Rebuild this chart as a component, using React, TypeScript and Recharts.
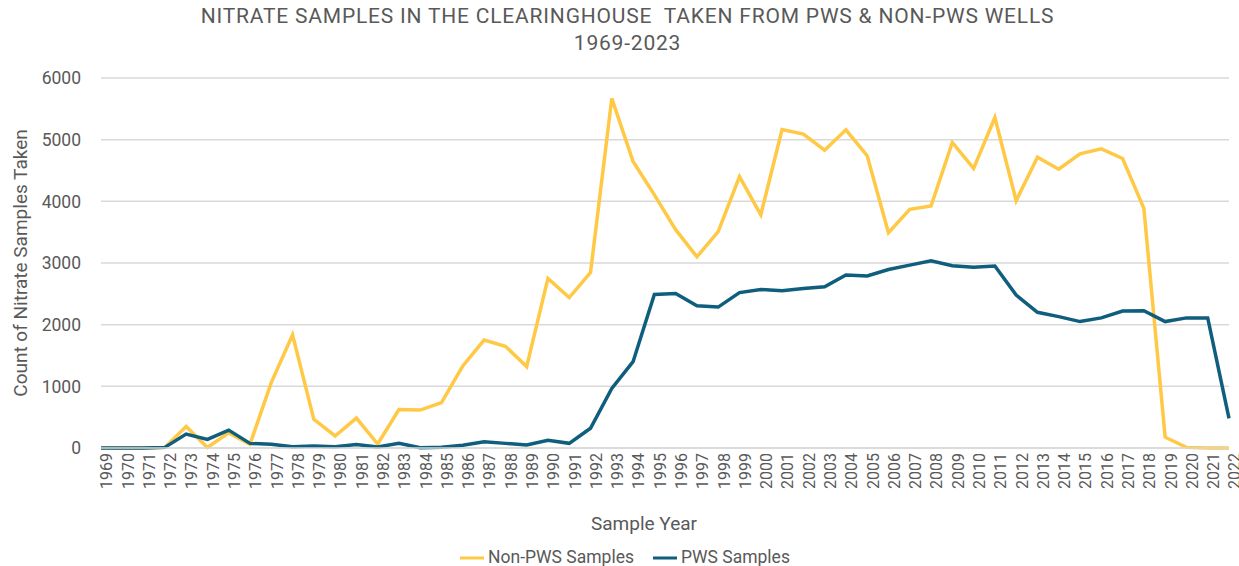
import React from 'react';
import { LineChart, Line, XAxis, YAxis, CartesianGrid, Legend } from 'recharts';

const YEARS = [
  '1969', '1970', '1971', '1972', '1973', '1974', '1975', '1976', '1977', '1978',
  '1979', '1980', '1981', '1982', '1983', '1984', '1985', '1986', '1987', '1988',
  '1989', '1990', '1991', '1992', '1993', '1994', '1995', '1996', '1997', '1998',
  '1999', '2000', '2001', '2002', '2003', '2004', '2005', '2006', '2007', '2008',
  '2009', '2010', '2011', '2012', '2013', '2014', '2015', '2016', '2017', '2018',
  '2019', '2020', '2021', '2022'
];

const NON_PWS = [
  0, 0, 0, 10, 350, 10, 245, 60, 1060, 1835,
  465, 195, 485, 65, 625, 615, 735, 1330, 1750, 1650,
  1320, 2750, 2440, 2845, 5670, 4645, 4105, 3540, 3100, 3510,
  4400, 3780, 5165, 5090, 4830, 5160, 4740, 3490, 3870, 3925,
  4955, 4535, 5360, 4010, 4715, 4520, 4770, 4850, 4695, 3885,
  175, 10, 0, 0
];

const PWS = [
  0, 0, 0, 10, 225, 140, 290, 75, 60, 20,
  32, 22, 55, 18, 75, 5, 12, 45, 100, 75,
  50, 125, 76, 320, 965, 1400, 2490, 2505, 2305, 2285,
  2520, 2570, 2550, 2585, 2615, 2805, 2790, 2895, 2965, 3035,
  2955, 2930, 2950, 2480, 2200, 2130, 2050, 2110, 2220, 2225,
  2050, 2110, 2110, 480
];

const Y_TICKS = [0, 1000, 2000, 3000, 4000, 5000, 6000];

const data = YEARS.map((year, i) => ({
  year,
  nonPws: NON_PWS[i],
  pws: PWS[i]
}));

const TEXT = '#595959';
const FONT = 'Roboto, "Noto Sans", sans-serif';

const App: React.FC = () => {
  return (
    <div style={{ position: 'absolute', left: 0, top: 0, width: 1239, height: 566, fontFamily: FONT, background: '#fff' }}>
      {/* titulo */}
      <div
        style={{
          position: 'absolute',
          left: 0,
          top: 3,
          width: 1239,
          textAlign: 'center',
          color: TEXT,
          fontSize: 21,
          letterSpacing: 0.8,
          lineHeight: '27px',
          whiteSpace: 'pre',
          paddingLeft: 8
        }}
      >
        {'NITRATE SAMPLES IN THE CLEARINGHOUSE  TAKEN FROM PWS & NON-PWS WELLS\n1969-2023'}
      </div>

      <LineChart
        width={1239}
        height={566}
        data={data}
        margin={{ top: 78, right: 10, left: 0, bottom: 0 }}
      >
        <CartesianGrid vertical={false} stroke="#d9d9d9" strokeWidth={1.5} />
        <XAxis
          dataKey="year"
          interval={0}
          height={88}
          angle={-90}
          textAnchor="end"
          tickLine={false}
          axisLine={{ stroke: '#d9d9d9', strokeWidth: 1.5 }}
          tick={{ fill: TEXT, fontSize: 16, dy: -9 }}
          tickMargin={8}
          label={{ value: 'Sample Year', position: 'insideBottom', offset: 6, fill: TEXT, fontSize: 19, dx: -21 }}
        />
        <YAxis
          width={101}
          domain={[0, 6000]}
          ticks={Y_TICKS}
          tickLine={false}
          axisLine={false}
          tick={{ fill: TEXT, fontSize: 17.5 }}
          tickMargin={14}
          label={{
            value: 'Count of Nitrate Samples Taken',
            angle: -90,
            position: 'insideLeft',
            offset: 20,
            fill: TEXT,
            fontSize: 19,
            style: { textAnchor: 'middle' }
          }}
        />
        <Legend
          verticalAlign="bottom"
          height={30}
          iconType="plainline"
          iconSize={24}
          wrapperStyle={{ fontSize: 17.5, top: 546, left: 20 }}
          formatter={(value: string) => <span style={{ color: TEXT, marginRight: 9 }}>{value}</span>}
        />
        <Line
          name="Non-PWS Samples"
          dataKey="nonPws"
          stroke="#FFC845"
          strokeWidth={3.5}
          dot={false}
          isAnimationActive={false}
        />
        <Line
          name="PWS Samples"
          dataKey="pws"
          stroke="#0F5E7D"
          strokeWidth={3.5}
          dot={false}
          isAnimationActive={false}
        />
      </LineChart>
    </div>
  );
};

export default App;
